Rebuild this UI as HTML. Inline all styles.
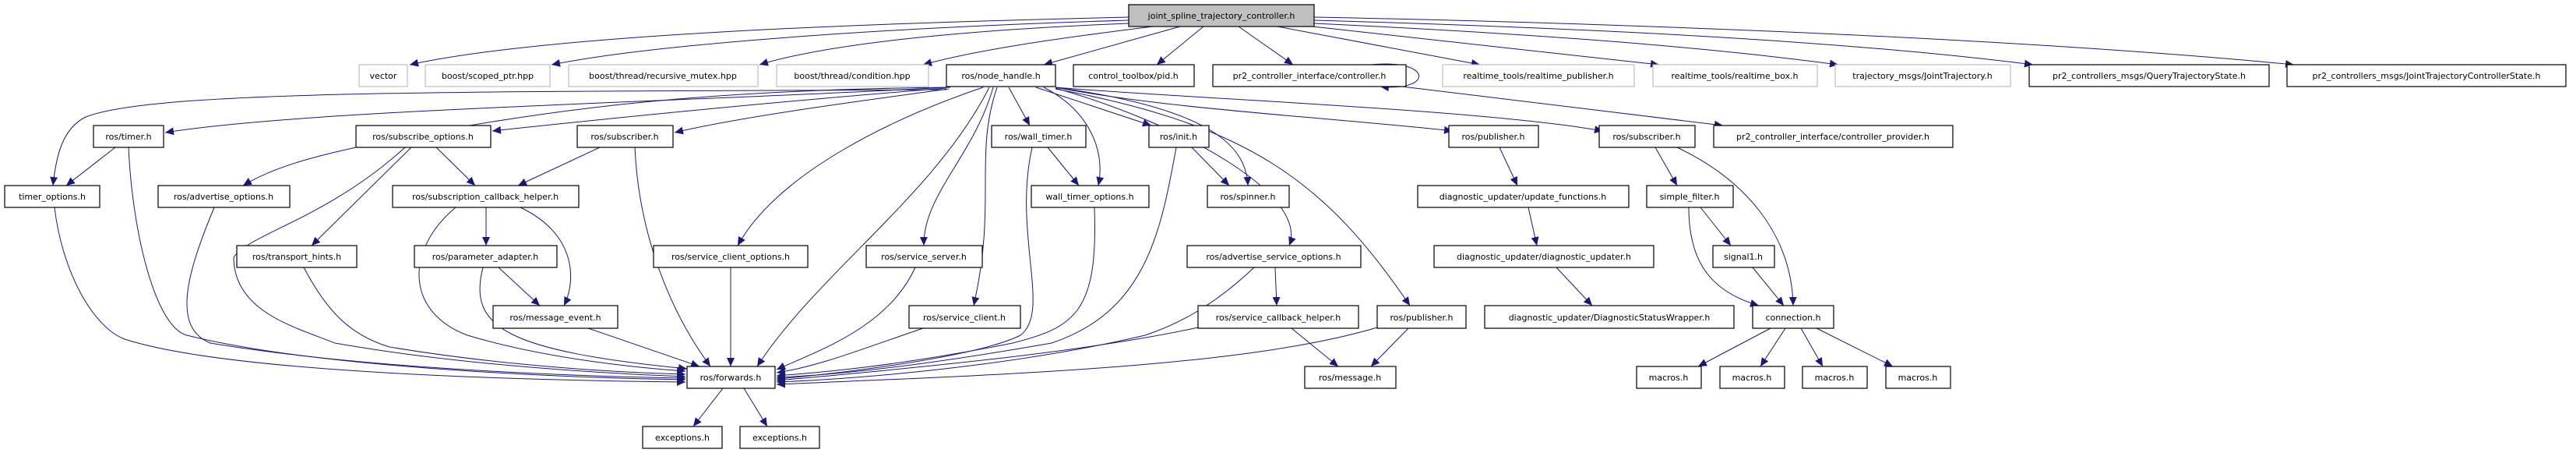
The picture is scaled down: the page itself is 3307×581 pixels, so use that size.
<!DOCTYPE html>
<html><head><meta charset="utf-8"><style>
html,body{margin:0;padding:0;background:#fff;}
svg{display:block;}
text{font-family:"DejaVu Sans","Liberation Sans",sans-serif;font-size:11px;fill:#000;}
.n{fill:#fff;stroke:#000;stroke-width:1.2;}
.g{fill:#fff;stroke:#bfbfbf;stroke-width:1.2;}
.e{fill:none;stroke:#191970;stroke-width:1;}
</style></head><body>
<svg width="3307" height="581" viewBox="0 0 3307 581" xmlns="http://www.w3.org/2000/svg">
<defs><marker id="a" markerUnits="userSpaceOnUse" markerWidth="12" markerHeight="10" refX="11" refY="5" orient="auto"><path d="M0,0 L11,5 L0,10 z" fill="#191970"/></marker></defs>
<g class="e" marker-end="url(#a)">
<path d="M1449,22 C1100,30 700,45 526,83"/>
<path d="M1449,26 C1150,35 850,55 708,83"/>
<path d="M1449,30 C1200,40 1050,60 975,83"/>
<path d="M1480,34 C1350,50 1250,65 1185,83"/>
<path d="M1515,34 L1340,83"/>
<path d="M1545,34 L1485,83"/>
<path d="M1590,34 L1660,83"/>
<path d="M1640,34 L1900,83"/>
<path d="M1685,34 L2130,83"/>
<path d="M1687,30 C1900,40 2150,55 2360,83"/>
<path d="M1687,26 C2000,35 2350,50 2610,83"/>
<path d="M1687,22 C2100,30 2600,50 2945,83"/>
<path d="M1760,83 C1840,75 1840,118 1772,111"/>
<path d="M1800,111 L2212,161"/>
<path d="M1215,112 C900,130 400,140 212,170"/>
<path d="M1215,113 C1000,130 800,150 632,168"/>
<path d="M1218,114 C1100,130 950,150 866,170"/>
<path d="M1215,115 C600,118 200,115 110,150 C80,165 72,200 68,238"/>
<path d="M1220,112 C900,115 700,140 500,180 C400,200 350,215 312,238"/>
<path d="M1295,112 L1322,161"/>
<path d="M1330,112 L1478,161"/>
<path d="M1340,112 C1395,140 1420,190 1410,238"/>
<path d="M1355,112 C1560,140 1600,190 1602,238"/>
<path d="M1355,112 C1500,140 1700,150 1865,168"/>
<path d="M1355,112 C1500,125 1900,140 2058,168"/>
<path d="M1355,113 C1520,160 1680,250 1655,315"/>
<path d="M1355,114 C1600,160 1700,230 1810,392"/>
<path d="M1262,112 C1150,150 1000,220 947,315"/>
<path d="M1275,112 C1250,200 1185,250 1186,315"/>
<path d="M1280,112 C1250,200 1280,260 1250,392"/>
<path d="M1270,112 C1200,250 1050,350 972,470"/>
<path d="M70,266 C80,350 120,420 160,435 C300,480 700,488 880,490"/>
<path d="M165,189 C170,300 200,420 240,430 C400,470 700,484 880,487"/>
<path d="M275,266 C240,350 220,420 270,440 C450,470 700,482 880,485"/>
<path d="M520,189 C420,280 320,300 300,330 C300,400 380,420 430,440 C600,470 800,480 880,483"/>
<path d="M390,343 C420,400 450,430 500,445 C650,470 800,478 880,480"/>
<path d="M585,266 C520,320 520,400 600,430 C700,460 820,472 880,476"/>
<path d="M620,343 C600,420 650,450 882,473"/>
<path d="M755,421 L898,470"/>
<path d="M815,189 C820,300 860,400 912,470"/>
<path d="M938,343 L938,470"/>
<path d="M1175,343 C1140,420 1050,450 997,474"/>
<path d="M1185,421 C1100,450 1050,470 997,478"/>
<path d="M1405,266 C1410,400 1380,420 1300,440 C1150,470 1050,478 997,482"/>
<path d="M1510,189 C1490,300 1470,400 1350,440 C1150,475 1050,482 997,484"/>
<path d="M1325,189 C1300,300 1350,400 1310,430 C1250,460 1050,482 997,486"/>
<path d="M1538,420 C1400,450 1200,470 997,488"/>
<path d="M1610,343 C1550,400 1500,420 1470,430 C1300,470 1100,486 997,490"/>
<path d="M1768,420 C1600,470 1300,480 997,493"/>
<path d="M148,189 L85,238"/>
<path d="M560,189 L610,238"/>
<path d="M528,189 L400,315"/>
<path d="M770,189 L665,238"/>
<path d="M624,266 L624,315"/>
<path d="M668,266 C740,300 740,360 724,392"/>
<path d="M640,343 L693,392"/>
<path d="M1345,189 L1385,238"/>
<path d="M1530,189 L1578,238"/>
<path d="M1925,189 L1948,238"/>
<path d="M1962,266 L1973,315"/>
<path d="M1998,343 L2044,392"/>
<path d="M1637,343 L1639,392"/>
<path d="M1658,421 L1718,470"/>
<path d="M1808,421 L1760,470"/>
<path d="M2125,189 L2153,238"/>
<path d="M2153,189 C2240,230 2300,300 2302,392"/>
<path d="M2183,266 L2222,315"/>
<path d="M2168,266 C2168,340 2200,375 2258,392"/>
<path d="M2250,343 L2290,392"/>
<path d="M2273,421 L2180,470"/>
<path d="M2292,421 L2260,470"/>
<path d="M2312,421 L2340,470"/>
<path d="M2332,421 L2430,470"/>
<path d="M928,498 L890,547"/>
<path d="M955,498 L985,547"/>
</g>
<g>
<rect x="1449" y="6" width="238" height="28" fill="#bfbfbf" stroke="#000" stroke-width="1.2"/><text x="1568" y="24" text-anchor="middle">joint_spline_trajectory_controller.h</text>
</g>
<g text-anchor="middle">
<rect class="g" x="461" y="83" width="62" height="28"/><text x="492" y="101" text-anchor="middle">vector</text>
<rect class="g" x="546" y="83" width="160" height="28"/><text x="626" y="101" text-anchor="middle">boost/scoped_ptr.hpp</text>
<rect class="g" x="730" y="83" width="243" height="28"/><text x="851" y="101" text-anchor="middle">boost/thread/recursive_mutex.hpp</text>
<rect class="g" x="997" y="83" width="195" height="28"/><text x="1094" y="101" text-anchor="middle">boost/thread/condition.hpp</text>
<rect class="n" x="1215" y="83" width="140" height="28"/><text x="1285" y="101" text-anchor="middle">ros/node_handle.h</text>
<rect class="n" x="1378" y="83" width="155" height="28"/><text x="1455" y="101" text-anchor="middle">control_toolbox/pid.h</text>
<rect class="n" x="1557" y="83" width="248" height="28"/><text x="1681" y="101" text-anchor="middle">pr2_controller_interface/controller.h</text>
<rect class="g" x="1852" y="83" width="246" height="28"/><text x="1975" y="101" text-anchor="middle">realtime_tools/realtime_publisher.h</text>
<rect class="g" x="2122" y="83" width="211" height="28"/><text x="2227" y="101" text-anchor="middle">realtime_tools/realtime_box.h</text>
<rect class="g" x="2356" y="83" width="225" height="28"/><text x="2468" y="101" text-anchor="middle">trajectory_msgs/JointTrajectory.h</text>
<rect class="n" x="2605" y="83" width="308" height="28"/><text x="2759" y="101" text-anchor="middle">pr2_controllers_msgs/QueryTrajectoryState.h</text>
<rect class="n" x="2936" y="83" width="358" height="28"/><text x="3115" y="101" text-anchor="middle">pr2_controllers_msgs/JointTrajectoryControllerState.h</text>

<rect class="n" x="120" y="161" width="90" height="28"/><text x="165" y="179" text-anchor="middle">ros/timer.h</text>
<rect class="n" x="457" y="161" width="173" height="28"/><text x="543" y="179" text-anchor="middle">ros/subscribe_options.h</text>
<rect class="n" x="741" y="161" width="123" height="28"/><text x="802" y="179" text-anchor="middle">ros/subscriber.h</text>
<rect class="n" x="1273" y="161" width="121" height="28"/><text x="1333" y="179" text-anchor="middle">ros/wall_timer.h</text>
<rect class="n" x="1475" y="161" width="77" height="28"/><text x="1513" y="179" text-anchor="middle">ros/init.h</text>
<rect class="n" x="1860" y="161" width="115" height="28"/><text x="1917" y="179" text-anchor="middle">ros/publisher.h</text>
<rect class="n" x="2053" y="161" width="123" height="28"/><text x="2114" y="179" text-anchor="middle">ros/subscriber.h</text>
<rect class="n" x="2200" y="161" width="307" height="28"/><text x="2353" y="179" text-anchor="middle">pr2_controller_interface/controller_provider.h</text>

<rect class="n" x="6" y="238" width="122" height="28"/><text x="67" y="256" text-anchor="middle">timer_options.h</text>
<rect class="n" x="203" y="238" width="169" height="28"/><text x="287" y="256" text-anchor="middle">ros/advertise_options.h</text>
<rect class="n" x="504" y="238" width="239" height="28"/><text x="623" y="256" text-anchor="middle">ros/subscription_callback_helper.h</text>
<rect class="n" x="1324" y="238" width="151" height="28"/><text x="1399" y="256" text-anchor="middle">wall_timer_options.h</text>
<rect class="n" x="1550" y="238" width="105" height="28"/><text x="1602" y="256" text-anchor="middle">ros/spinner.h</text>
<rect class="n" x="1820" y="238" width="271" height="28"/><text x="1955" y="256" text-anchor="middle">diagnostic_updater/update_functions.h</text>
<rect class="n" x="2114" y="238" width="111" height="28"/><text x="2169" y="256" text-anchor="middle">simple_filter.h</text>

<rect class="n" x="304" y="315" width="154" height="28"/><text x="381" y="333" text-anchor="middle">ros/transport_hints.h</text>
<rect class="n" x="532" y="315" width="183" height="28"/><text x="623" y="333" text-anchor="middle">ros/parameter_adapter.h</text>
<rect class="n" x="839" y="315" width="198" height="28"/><text x="938" y="333" text-anchor="middle">ros/service_client_options.h</text>
<rect class="n" x="1112" y="315" width="149" height="28"/><text x="1186" y="333" text-anchor="middle">ros/service_server.h</text>
<rect class="n" x="1524" y="315" width="223" height="28"/><text x="1635" y="333" text-anchor="middle">ros/advertise_service_options.h</text>
<rect class="n" x="1841" y="315" width="282" height="28"/><text x="1982" y="333" text-anchor="middle">diagnostic_updater/diagnostic_updater.h</text>
<rect class="n" x="2199" y="315" width="79" height="28"/><text x="2238" y="333" text-anchor="middle">signal1.h</text>

<rect class="n" x="633" y="392" width="160" height="29"/><text x="713" y="411" text-anchor="middle">ros/message_event.h</text>
<rect class="n" x="1167" y="392" width="143" height="29"/><text x="1238" y="411" text-anchor="middle">ros/service_client.h</text>
<rect class="n" x="1538" y="392" width="206" height="29"/><text x="1641" y="411" text-anchor="middle">ros/service_callback_helper.h</text>
<rect class="n" x="1768" y="392" width="114" height="29"/><text x="1825" y="411" text-anchor="middle">ros/publisher.h</text>
<rect class="n" x="1906" y="392" width="320" height="29"/><text x="2066" y="411" text-anchor="middle">diagnostic_updater/DiagnosticStatusWrapper.h</text>
<rect class="n" x="2250" y="392" width="104" height="29"/><text x="2302" y="411" text-anchor="middle">connection.h</text>

<rect class="n" x="882" y="470" width="113" height="28"/><text x="938" y="488" text-anchor="middle">ros/forwards.h</text>
<rect class="n" x="1675" y="470" width="117" height="28"/><text x="1733" y="488" text-anchor="middle">ros/message.h</text>
<rect class="n" x="2101" y="470" width="83" height="28"/><text x="2142" y="488" text-anchor="middle">macros.h</text>
<rect class="n" x="2208" y="470" width="83" height="28"/><text x="2249" y="488" text-anchor="middle">macros.h</text>
<rect class="n" x="2314" y="470" width="83" height="28"/><text x="2355" y="488" text-anchor="middle">macros.h</text>
<rect class="n" x="2421" y="470" width="83" height="28"/><text x="2462" y="488" text-anchor="middle">macros.h</text>

<rect class="n" x="825" y="547" width="102" height="28"/><text x="876" y="565" text-anchor="middle">exceptions.h</text>
<rect class="n" x="950" y="547" width="102" height="28"/><text x="1001" y="565" text-anchor="middle">exceptions.h</text>
</g>
</svg>
</body></html>
